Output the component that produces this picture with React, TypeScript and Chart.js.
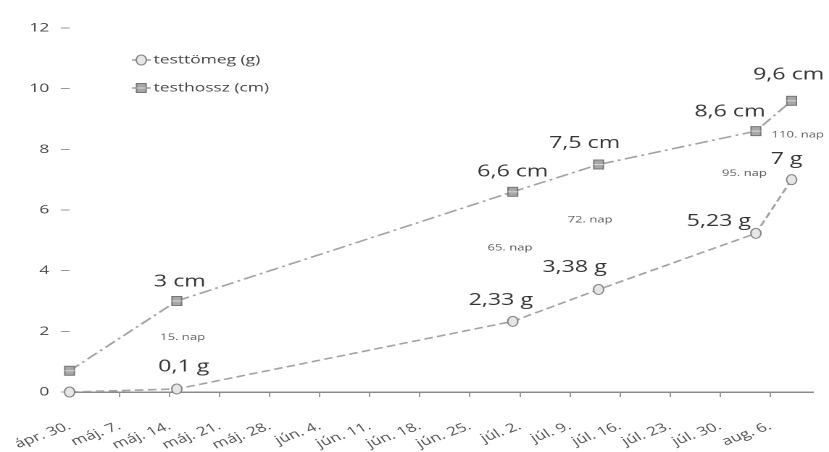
import { useEffect, useRef } from "react";
import { Chart, registerables } from "chart.js";

Chart.register(...registerables);

// Weekly date ticks, starting on ápr. 30.
const dateLabels = [
  "ápr. 30.", "máj. 7.", "máj. 14.", "máj. 21.", "máj. 28.",
  "jún. 4.", "jún. 11.", "jún. 18.", "jún. 25.",
  "júl. 2.", "júl. 9.", "júl. 16.", "júl. 23.", "júl. 30.", "aug. 6.",
];

// Measurement days, counted from ápr. 30.
const measureDays = [0, 15, 62, 74, 96, 101];
const testtomeg = [0, 0.1, 2.33, 3.38, 5.23, 7];
const testhossz = [0.7, 3, 6.6, 7.5, 8.6, 9.6];

const seriesNames = ["testtömeg (g)", "testhossz (cm)"];
const seriesUnits = ["g", "cm"];

// Age notes placed in data coordinates (day, value)
const ageNotes = [
  { text: "15. nap", day: 15.8, value: 1.8, align: "center" },
  { text: "65. nap", day: 61.6, value: 4.75, align: "center" },
  { text: "72. nap", day: 72.8, value: 5.67, align: "center" },
  { text: "95. nap", day: 94.4, value: 7.2, align: "center" },
  { text: "110. nap", day: 98.2, value: 8.47, align: "left" },
];

// Screen-pixel shift of each value label from its point (null = no label)
const tomegLabelShift: ([number, number] | null)[] = [null, [7, -22], [-12, -21], [-24, -22], [-37, -12], [-5, -20]];
const hosszLabelShift: ([number, number] | null)[] = [null, [3, -19], [0, -20], [-14, -21], [-26, -19], [-3, -26]];

const OUT_W = 829;
const OUT_H = 452;
const DRAW_W = 572;
const S = OUT_W / DRAW_W; // horizontal widening of the whole drawing

const FONT = "'Open Sans', 'DejaVu Sans', sans-serif";
const LINE_COLOR = "#a3a3a3";

function fmt(v: number) {
  return String(v).replace(".", ",");
}

function drawMarker(ctx: CanvasRenderingContext2D, kind: number, x: number, y: number) {
  ctx.save();
  ctx.lineWidth = 1;
  if (kind === 0) {
    ctx.beginPath();
    ctx.ellipse(x, y, 3.5, 5, 0, 0, Math.PI * 2);
    ctx.fillStyle = "#e6e6e6";
    ctx.fill();
    ctx.strokeStyle = "#858585";
    ctx.stroke();
  } else {
    const w = 6.6, h = 9;
    ctx.fillStyle = "#a8a8a8";
    ctx.fillRect(x - w / 2, y - h / 2, w, h);
    ctx.strokeStyle = "#767676";
    ctx.strokeRect(x - w / 2, y - h / 2, w, h);
    ctx.beginPath();
    ctx.moveTo(x - w / 2, y);
    ctx.lineTo(x + w / 2, y);
    ctx.strokeStyle = "#d8d8d8";
    ctx.stroke();
  }
  ctx.restore();
}

const overlay = {
  id: "overlay",
  afterDatasetsDraw(chart: any) {
    const ctx: CanvasRenderingContext2D = chart.ctx;
    const xs = chart.scales.x;
    const ys = chart.scales.y;
    const shifts = [tomegLabelShift, hosszLabelShift];

    chart.data.datasets.forEach((ds: any, di: number) => {
      const meta = chart.getDatasetMeta(di);
      meta.data.forEach((pt: any) => drawMarker(ctx, di, pt.x, pt.y));

      ctx.save();
      ctx.font = `16px ${FONT}`;
      ctx.fillStyle = "#353535";
      ctx.textAlign = "center";
      ctx.textBaseline = "middle";
      meta.data.forEach((pt: any, i: number) => {
        const sh = shifts[di][i];
        if (!sh) return;
        const v = ds.data[i].y;
        ctx.fillText(`${fmt(v)} ${seriesUnits[di]}`, pt.x + sh[0] / S, pt.y + sh[1]);
      });
      ctx.restore();
    });

    // age notes
    ctx.save();
    ctx.font = `9px ${FONT}`;
    ctx.fillStyle = "#5a5a5a";
    ctx.textBaseline = "middle";
    ageNotes.forEach((n) => {
      ctx.textAlign = n.align as CanvasTextAlign;
      ctx.fillText(n.text, xs.getPixelForValue(n.day), ys.getPixelForValue(n.value));
    });
    ctx.restore();

    // legend
    const rows = [60, 88];
    ctx.save();
    ctx.font = `12px ${FONT}`;
    ctx.textAlign = "left";
    ctx.textBaseline = "middle";
    rows.forEach((ry, di) => {
      ctx.save();
      ctx.strokeStyle = LINE_COLOR;
      ctx.lineWidth = 1.6;
      ctx.beginPath();
      ctx.moveTo(91, ry);
      ctx.lineTo(104, ry);
      ctx.stroke();
      ctx.restore();
      drawMarker(ctx, di, 97.5, ry);
      ctx.fillStyle = "#444";
      ctx.fillText(seriesNames[di], 106, ry);
    });
    ctx.restore();
  },
};

export default function App() {
  const ref = useRef<HTMLCanvasElement>(null);

  useEffect(() => {
    document.body.style.margin = "0";
    const canvas = ref.current;
    if (!canvas) return;

    const chart = new Chart(canvas, {
      type: "line",
      data: {
        datasets: [
          {
            label: seriesNames[0],
            data: measureDays.map((d, i) => ({ x: d, y: testtomeg[i] })),
            borderColor: LINE_COLOR,
            borderWidth: 1.6,
            borderDash: [6, 3],
            pointRadius: 0,
            pointHoverRadius: 0,
            tension: 0,
            fill: false,
          },
          {
            label: seriesNames[1],
            data: measureDays.map((d, i) => ({ x: d, y: testhossz[i] })),
            borderColor: LINE_COLOR,
            borderWidth: 1.6,
            borderDash: [9, 3, 2, 3],
            pointRadius: 0,
            pointHoverRadius: 0,
            tension: 0,
            fill: false,
          },
        ],
      },
      options: {
        animation: false,
        responsive: true,
        maintainAspectRatio: false,
        devicePixelRatio: 2,
        events: [],
        layout: { padding: { top: 28, right: 11, left: 0, bottom: 0 } },
        plugins: {
          legend: { display: false },
          tooltip: { enabled: false },
        },
        scales: {
          x: {
            type: "linear",
            min: 0,
            max: 104,
            afterBuildTicks: (scale: any) => {
              scale.ticks = dateLabels.map((_, i) => ({ value: i * 7 }));
            },
            afterFit: (scale: any) => {
              scale.height = 60;
              scale.paddingLeft = 0;
              scale.paddingRight = 0;
            },
            ticks: {
              autoSkip: false,
              minRotation: 28,
              maxRotation: 28,
              padding: 22,
              color: "#505050",
              font: { family: FONT, size: 12 },
              callback: (v: any) => dateLabels[Math.round(Number(v) / 7)] ?? "",
            },
            grid: {
              drawOnChartArea: false,
              drawTicks: true,
              tickLength: 5,
              color: "#999",
            },
            border: { display: true, color: "#8a8a8a", width: 1.5 },
          },
          y: {
            min: 0,
            max: 12,
            afterBuildTicks: (scale: any) => {
              scale.ticks = [0, 2, 4, 6, 8, 10, 12].map((v) => ({ value: v }));
            },
            afterFit: (scale: any) => {
              scale.width = 48;
            },
            ticks: {
              padding: 8,
              color: "#484848",
              font: { family: FONT, size: 12 },
            },
            grid: {
              drawOnChartArea: false,
              drawTicks: true,
              tickLength: 6,
              color: "#999",
            },
            border: { display: false },
          },
        },
      },
      plugins: [overlay],
    } as any);

    return () => chart.destroy();
  }, []);

  return (
    <div style={{ width: OUT_W, height: OUT_H, overflow: "hidden", background: "#fff" }}>
      <div
        style={{
          width: DRAW_W,
          height: OUT_H,
          position: "relative",
          transform: `scaleX(${S})`,
          transformOrigin: "0 0",
        }}
      >
        <canvas ref={ref} style={{ display: "block" }} />
      </div>
    </div>
  );
}
